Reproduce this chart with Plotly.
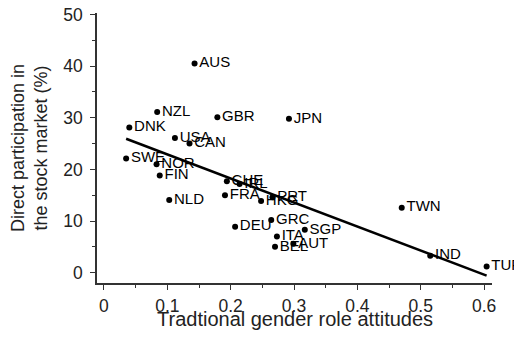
import numpy as np
import plotly.graph_objects as go

countries = ["AUS", "NZL", "GBR", "JPN", "DNK", "USA", "CAN", "SWE", "NOR", "FIN",
             "NLD", "CHE", "IRL", "FRA", "HKG", "PRT", "DEU", "GRC", "ITA", "BEL",
             "SGP", "AUT", "TWN", "IND", "TUR"]
gender_attitudes = [0.143, 0.084, 0.179, 0.292, 0.040, 0.112, 0.135, 0.035, 0.083, 0.088,
                    0.103, 0.194, 0.214, 0.191, 0.248, 0.266, 0.207, 0.264, 0.273, 0.270,
                    0.317, 0.299, 0.470, 0.515, 0.604]
stock_participation = [40.5, 31.1, 30.1, 29.8, 28.1, 26.1, 25.0, 22.1, 21.0, 18.8,
                       14.1, 17.7, 17.2, 15.0, 13.9, 14.6, 8.9, 10.2, 7.0, 5.0,
                       8.3, 5.6, 12.6, 3.3, 1.2]
x_title = "Tradtional gender role attitudes"
y_title = "Direct participation in<br>the stock market (%)"

x = np.array(gender_attitudes)
y = np.array(stock_participation)
slope, intercept = np.polyfit(x, y, 1)
fit_x = np.array([x.min(), x.max()])
fit_y = intercept + slope * fit_x

font = "Liberation Sans, Arial, sans-serif"

fig = go.Figure()
fig.add_trace(go.Scatter(
    x=fit_x, y=fit_y, mode="lines",
    line=dict(color="black", width=2.5), hoverinfo="skip", showlegend=False))
fig.add_trace(go.Scatter(
    x=x, y=y, mode="markers+text", text=countries, textposition="middle right",
    marker=dict(color="black", size=6), cliponaxis=False,
    textfont=dict(family=font, size=15, color="black"), showlegend=False))

axis_common = dict(
    showline=True, linecolor="#333", linewidth=1.5, showgrid=False, zeroline=False,
    ticks="outside", ticklen=5, tickwidth=1, tickcolor="#333", automargin=False,
    ticklabeloverflow="allow",
    tickfont=dict(family=font, size=17.5, color="#222"), mirror=False)

fig.update_xaxes(
    range=[-0.011, 0.6125], tickvals=[0, 0.1, 0.2, 0.3, 0.4, 0.5, 0.6],
    ticktext=["0", "0.1", "0.2", "0.3", "0.4", "0.5", "0.6"],
    minor=dict(ticks="outside", dtick=0.05, tick0=0, ticklen=3, tickcolor="#333"),
    ticklabelstandoff=1,
    **axis_common)
fig.update_yaxes(
    range=[-2.0, 50.3], tickvals=[0, 10, 20, 30, 40, 50],
    minor=dict(ticks="outside", dtick=5, tick0=0, ticklen=3, tickcolor="#333"),
    ticklabelstandoff=4,
    title=dict(text=y_title, font=dict(family=font, size=18, color="#222"), standoff=14),
    **axis_common)

fig.add_annotation(
    text=x_title, xref="paper", yref="paper", x=0.5, y=-0.132,
    xanchor="center", yanchor="middle", showarrow=False,
    font=dict(family=font, size=20, color="#222"))

# the page body has an 8px margin, so the figure is sized to fit inside it
fig.update_layout(
    width=506, height=325, margin=dict(l=89, r=22, t=5, b=50),
    plot_bgcolor="white", paper_bgcolor="white")

fig.write_html("out.html")
